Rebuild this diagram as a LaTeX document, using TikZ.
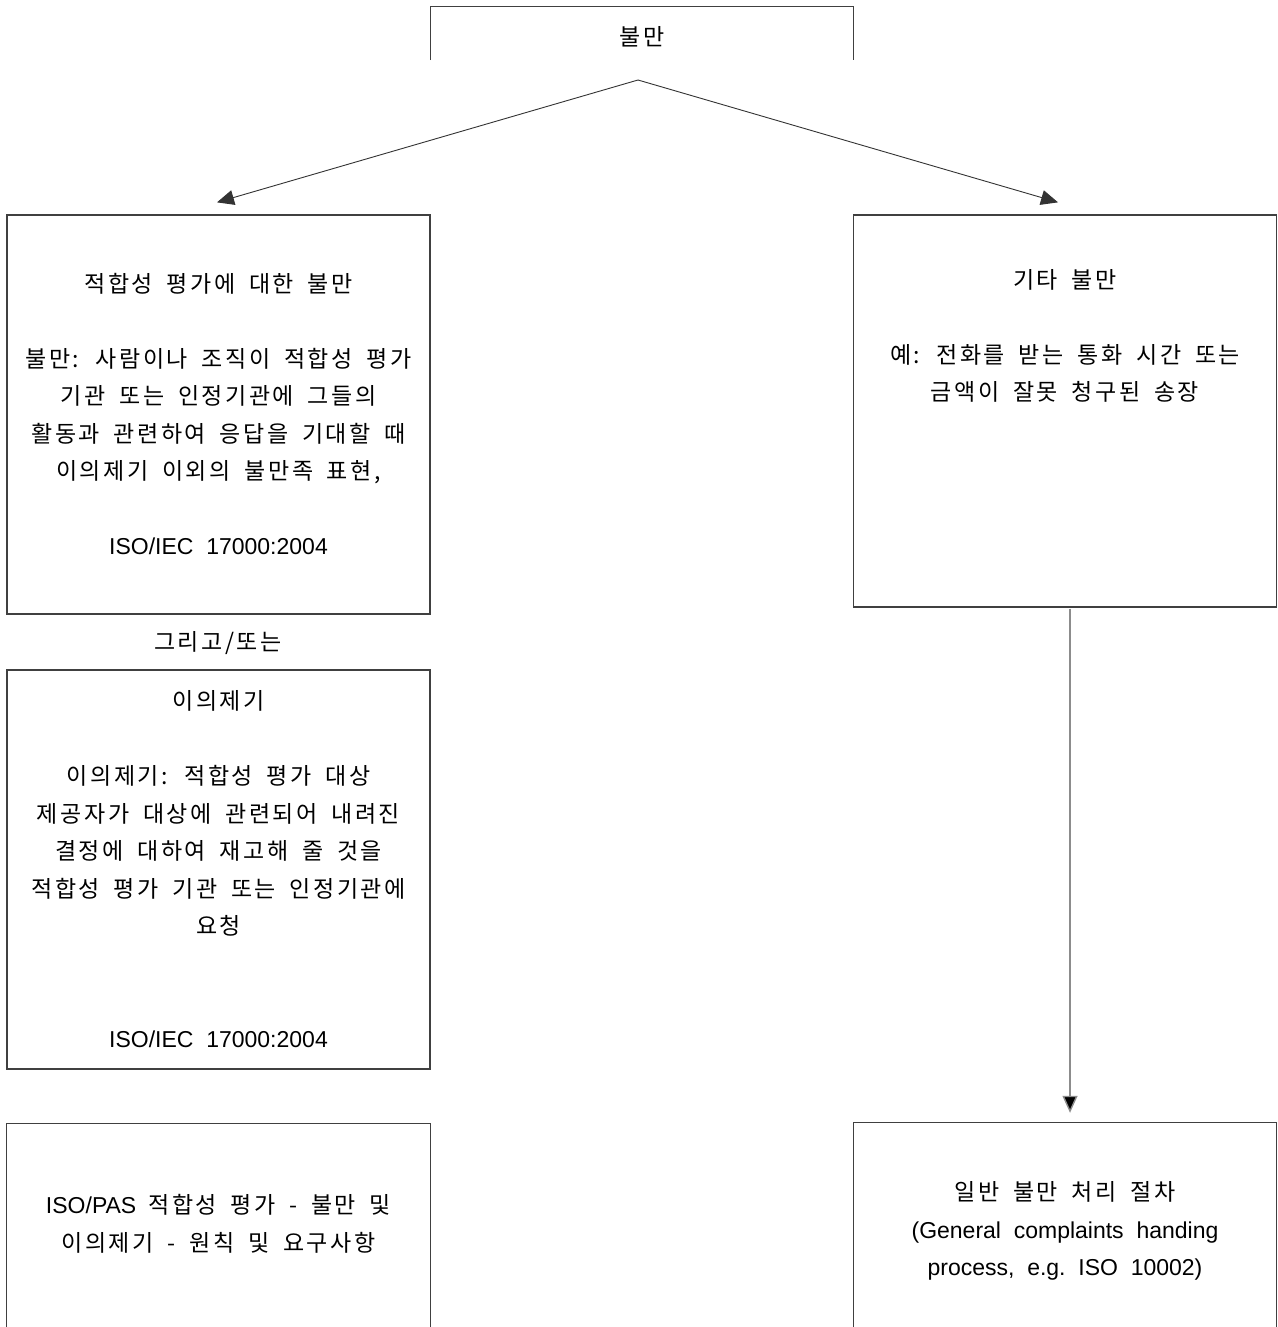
\documentclass[tikz,border=0pt]{standalone}
\usepackage{fontspec}
\setmainfont{Liberation Sans}
\newfontfamily\kr[LetterSpace=11,WordSpace=1.8]{Noto Sans CJK KR}
\usetikzlibrary{arrows.meta,calc}

\tikzset{
  box/.style={draw=black!75, line width=1.3pt, minimum width=423pt, inner sep=0pt},
  openbox/.style={draw=none, minimum width=423pt, inner sep=0pt},
  txt/.style={align=center, inner sep=0pt, font=\fontsize{23}{37.5}\selectfont},
  link/.style={draw=black!80, line width=0.9pt, -{Triangle[length=17pt,width=15pt]}},
  vlink/.style={draw=black!45, line width=1.4pt, -{Triangle[length=17pt,width=15pt,fill=black]}}
}

\begin{document}
\begin{tikzpicture}[x=1pt,y=-1pt]
\useasboundingbox[fill=white] (0,0) rectangle (1277,1327);

% header box, open at the bottom
\node[openbox, minimum height=53pt] (top) at (642,33.5) {};
\draw[draw=black!75, line width=1.3pt] (top.south west) -- (top.north west) -- (top.north east) -- (top.south east);
\node[txt] (toptxt) at (642,37) {\kr 불만};
\coordinate (apex) at (638,80);

% left column
\node[box, minimum height=399pt] (b1) at (218.5,414.5) {};
\node[txt] (t1) at (218.5,414) {{\kr 적합성 평가에 대한 불만}\\[37.5pt]
  {\kr 불만: 사람이나 조직이 적합성 평가}\\
  {\kr 기관 또는 인정기관에 그들의}\\
  {\kr 활동과 관련하여 응답을 기대할 때}\\
  {\kr 이의제기 이외의 불만족 표현,}\\[37.5pt]
  ISO/IEC~~17000:2004};

\node[txt] (andor) at (218,643) {\kr 그리고/또는};

\node[box, minimum height=399pt] (b3) at (218.5,869.5) {};
\node[txt] (t3) at (218.5,869) {{\kr 이의제기}\\[37.5pt]
  {\kr 이의제기: 적합성 평가 대상}\\
  {\kr 제공자가 대상에 관련되어 내려진}\\
  {\kr 결정에 대하여 재고해 줄 것을}\\
  {\kr 적합성 평가 기관 또는 인정기관에}\\
  {\kr 요청}\\[75pt]
  ISO/IEC~~17000:2004};

\node[openbox, minimum height=203pt] (b4) at (218.5,1225.5) {};
\draw[draw=black!75, line width=1.3pt] (b4.south west) -- (b4.north west) -- (b4.north east) -- (b4.south east);
\node[txt] (t4) at (218.5,1224) {ISO/PAS\hspace{12pt}{\kr 적합성 평가 - 불만 및}\\
  {\kr 이의제기 - 원칙 및 요구사항}};

% right column
\node[box, minimum height=392pt] (b2) at (1065,411) {};
\node[txt] (t2) at (1065,336) {{\kr 기타 불만}\\[37.5pt]
  {\kr 예: 전화를 받는 통화 시간 또는}\\
  {\kr 금액이 잘못 청구된 송장}};

\node[openbox, minimum height=204pt] (b5) at (1065,1225) {};
\draw[draw=black!75, line width=1.3pt] (b5.south west) -- (b5.north west) -- (b5.north east) -- (b5.south east);
\node[txt] (t5) at (1065,1231) {{\kr 일반 불만 처리 절차}\\
  (General~~complaints~~handing\\
  process,~~e.g.~~ISO~~10002)};

% connectors
\draw[link] (apex) -- ($(b1.north)+(-1.5,-12)$);
\draw[link] (apex) -- ($(b2.north)+(-7,-12)$);
\draw[vlink] ($(b2.south)+(5,1)$) -- ($(b5.north)+(5,-10)$);
\end{tikzpicture}
\end{document}
